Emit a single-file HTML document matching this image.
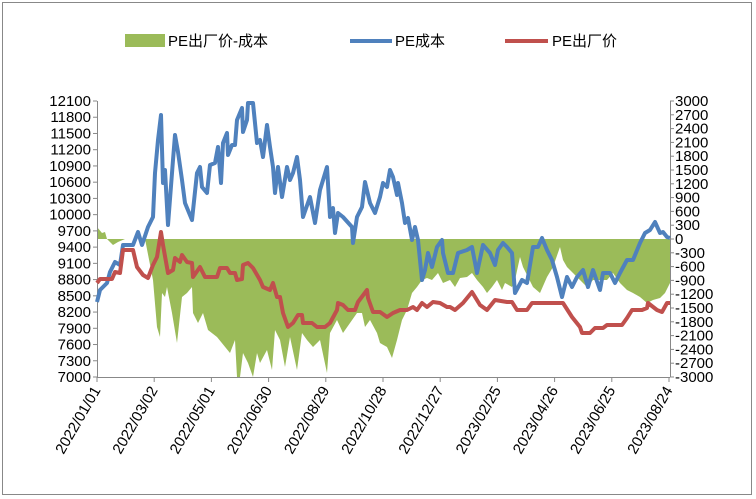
<!DOCTYPE html>
<html><head><meta charset="utf-8"><style>
body{margin:0;background:#fff}
svg{display:block}
text{font-family:"Liberation Sans","Noto Sans CJK SC",sans-serif;font-size:15px;fill:#000}
</style></head><body>
<svg width="756" height="499" viewBox="0 0 756 499" xmlns="http://www.w3.org/2000/svg">
<rect x="2.5" y="2.5" width="749" height="492" fill="#fff" stroke="#888" stroke-width="1"/>
<rect x="125" y="34" width="40" height="13" fill="#9bbb59"/>
<text x="168" y="46">PE出厂价-成本</text>
<line x1="350" y1="41" x2="392" y2="41" stroke="#4f81bd" stroke-width="4"/>
<text x="395" y="46">PE成本</text>
<line x1="505" y1="41" x2="548" y2="41" stroke="#c0504d" stroke-width="4"/>
<text x="552" y="46">PE出厂价</text>
<polygon fill="#9bbb59" points="97,239 97,227 102,233 105,232 107,239 113,245 118,242 125,239 145,239 153,280 157,327 160,337 162,293 165,297 167,287 172,313 177,343 182,297 187,293 192,287 193,313 198,323 203,313 208,330 217,337 230,353 235,340 237,377 240,377 243,353 248,363 253,377 257,353 260,363 267,350 272,370 275,330 280,340 285,367 290,337 297,370 302,333 307,340 313,347 320,340 327,373 330,333 337,320 343,333 350,323 357,313 362,313 365,327 370,320 377,333 380,343 387,347 392,358 397,340 402,320 407,310 412,293 417,287 422,280 427,278 432,280 438,273 443,283 450,280 455,287 460,278 467,277 472,273 477,280 483,287 487,293 492,287 497,280 502,290 505,283 512,287 515,280 520,257 523,267 528,277 533,287 540,293 547,277 553,267 560,247 563,260 567,267 573,273 580,280 587,287 593,280 600,280 607,280 613,273 620,283 627,290 633,293 640,297 647,303 653,300 660,298 665,293 670,283 670,239"/>
<g stroke="#888" stroke-width="1">
<line x1="97.5" y1="101" x2="97.5" y2="377"/>
<line x1="670.5" y1="101" x2="670.5" y2="377"/>
<line x1="97" y1="377.5" x2="670" y2="377.5"/>
</g>
<g id="ticks" stroke="#888" stroke-width="1"></g>
<polyline fill="none" stroke="#4f81bd" stroke-width="4" stroke-linejoin="round" points="97,302 100,290 107,283 110,272 115,262 120,265 123,245 133,245 138,232 142,245 148,227 153,217 155,173 158,140 161,115 163,183 165,170 168,225 173,160 175,135 178,152 182,180 185,203 192,220 197,173 200,167 202,187 207,193 210,165 215,163 218,147 221,183 223,143 227,133 228,155 232,145 235,145 237,120 242,108 243,132 247,120 248,103 253,103 257,143 260,140 263,157 267,125 270,147 273,167 275,193 278,167 282,197 287,167 290,180 293,173 297,157 300,180 303,217 310,197 315,223 320,190 327,167 330,217 333,208 335,233 338,213 343,217 352,227 353,243 357,217 362,207 365,182 370,203 375,213 380,197 383,183 387,187 390,170 393,177 397,195 398,183 402,203 405,223 408,218 412,240 415,227 418,240 422,280 425,270 428,253 432,267 437,247 442,240 443,253 448,273 453,273 458,253 467,250 472,247 477,273 483,245 490,253 495,265 498,250 503,243 507,247 512,253 515,293 522,280 527,283 533,247 538,247 542,238 547,250 552,260 557,277 562,297 567,277 572,287 577,277 583,270 588,287 593,270 600,290 603,273 610,273 615,283 620,273 627,260 633,260 640,243 645,233 650,230 655,222 660,233 663,232 667,237 670,238"/>
<polyline fill="none" stroke="#c0504d" stroke-width="4" stroke-linejoin="round" points="97,283 100,279 112,279 115,272 120,273 123,250 133,250 137,267 143,275 148,278 153,265 157,257 161,232 163,245 168,273 173,270 175,258 180,262 182,255 187,262 192,263 193,277 200,267 205,277 217,277 220,268 227,268 230,273 235,273 237,280 242,279 243,265 248,263 253,268 260,280 263,287 270,290 273,283 277,297 280,297 283,313 288,327 293,323 298,315 302,315 303,323 312,323 317,327 325,327 330,323 337,310 338,303 343,305 348,310 355,310 358,302 367,290 368,298 373,312 380,312 387,317 393,313 400,310 407,310 413,307 417,310 422,303 427,307 433,302 440,303 447,307 450,307 455,310 463,303 472,292 480,305 487,310 495,300 507,302 512,302 517,310 527,310 532,303 545,303 563,303 572,317 580,327 582,333 590,333 595,328 603,328 607,325 622,325 627,318 632,310 642,310 647,308 648,303 657,310 662,312 667,303 670,303"/>
<g id="labels"></g>
</svg>
<script>
var ns="http://www.w3.org/2000/svg",tk=document.getElementById('ticks'),lb=document.getElementById('labels');
function el(n,a,p,t){var e=document.createElementNS(ns,n);for(var k in a)e.setAttribute(k,a[k]);if(t!=null)e.textContent=t;p.appendChild(e);return e;}
for(var i=0;i<=17;i++){var y=377-i*276/17;el('line',{x1:93,x2:97,y1:y,y2:y},tk);el('text',{x:91,y:y+5,'text-anchor':'end'},lb,7000+i*300);}
for(var i=0;i<=20;i++){var y=377-i*276/20;el('line',{x1:670,x2:674,y1:y,y2:y},tk);el('text',{x:675,y:y+5},lb,-3000+i*300);}
var d=['2022/01/01','2022/03/02','2022/05/01','2022/06/30','2022/08/29','2022/10/28','2022/12/27','2023/02/25','2023/04/26','2023/06/25','2023/08/24'];
for(var i=0;i<d.length;i++){var x=97+i*572/10;el('line',{x1:x,x2:x,y1:377,y2:382},tk);el('text',{x:x+4,y:390,'text-anchor':'end',transform:'rotate(-60 '+(x+4)+' 390)'},lb,d[i]);}
</script>
</body></html>
